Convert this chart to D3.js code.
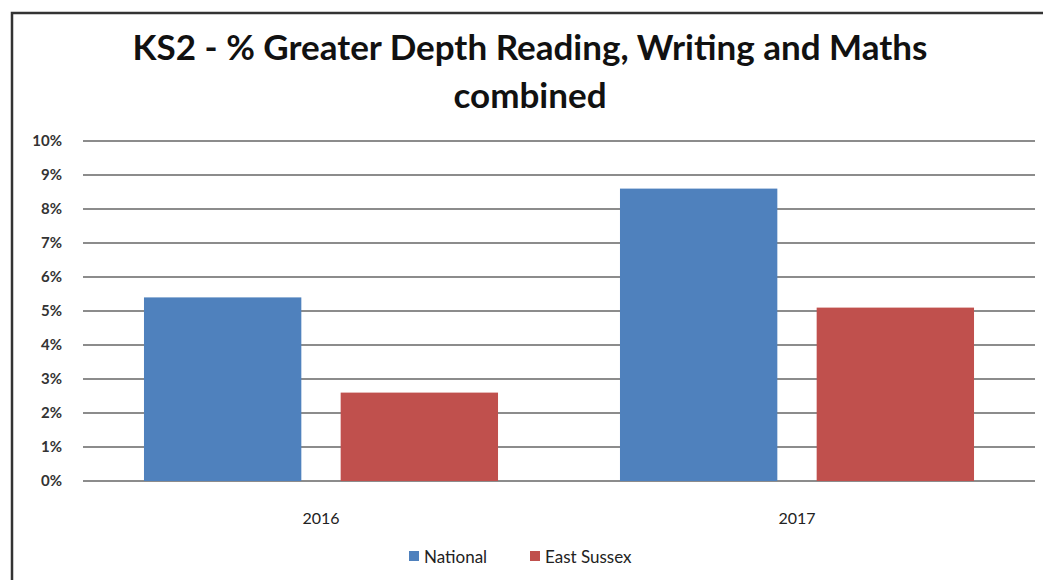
<!DOCTYPE html>
<html>
<head>
<meta charset="utf-8">
<script src="https://cdn.jsdelivr.net/npm/d3@7"></script>
<style>
  body { margin: 0; background: #fff; }
  svg text { font-family: Lato, "Open Sans", sans-serif; }
</style>
</head>
<body>
<svg id="chart" width="1043" height="580"></svg>
<script>
const years = ['2016', '2017']
const seriesNames = ['National', 'East Sussex']
const national = [5.4, 8.6]
const eastSussex = [2.6, 5.1]
const yTicks = [0, 1, 2, 3, 4, 5, 6, 7, 8, 9, 10]
const colors = ['#4f81bd', '#c0504d']

let svg = d3.select('#chart')
let grid = { left: 83, right: 1035, top: 141, bottom: 481 }

// frame
svg.append('rect')
  .attr('x', 12).attr('y', 13)
  .attr('width', 1100).attr('height', 700)
  .attr('fill', '#fff').attr('stroke', '#333').attr('stroke-width', 2.5)

// title
let title = svg.append('text')
  .attr('text-anchor', 'middle')
  .attr('font-weight', 'bold')
  .attr('font-size', 35)
  .attr('fill', '#111')
title.append('tspan').attr('x', 530).attr('y', 60).text('KS2 - % Greater Depth Reading, Writing and Maths')
title.append('tspan').attr('x', 530).attr('y', 108).text('combined')

let scaleX = d3.scaleBand().domain(years).range([grid.left, grid.right])
let scaleSeries = d3.scaleBand().domain(seriesNames)
  .range([0, scaleX.bandwidth()]).paddingInner(0.2).paddingOuter(0.31)
let scaleY = d3.scaleLinear().domain([0, 10]).range([grid.bottom, grid.top])

// gridlines
svg.append('g').selectAll('line')
  .data(yTicks)
  .join('line')
  .attr('x1', grid.left).attr('x2', grid.right)
  .attr('y1', d => scaleY(d)).attr('y2', d => scaleY(d))
  .attr('stroke', '#8c8c8c').attr('stroke-width', 2)

// y labels
svg.append('g').selectAll('text')
  .data(yTicks)
  .join('text')
  .attr('x', 62).attr('y', d => scaleY(d) + 5)
  .attr('text-anchor', 'end')
  .attr('font-size', 15)
  .attr('font-weight', 'bold')
  .attr('fill', '#333')
  .text(d => d + '%')

// bars
let data = [national, eastSussex]
data.forEach((vals, si) => {
  svg.append('g').selectAll('rect')
    .data(vals)
    .join('rect')
    .attr('x', (d, i) => scaleX(years[i]) + scaleSeries(seriesNames[si]))
    .attr('width', scaleSeries.bandwidth())
    .attr('y', d => scaleY(d))
    .attr('height', d => grid.bottom - scaleY(d))
    .attr('fill', colors[si])
})

// x labels
svg.append('g').selectAll('text')
  .data(years)
  .join('text')
  .attr('x', d => scaleX(d) + scaleX.bandwidth() / 2)
  .attr('y', 524)
  .attr('text-anchor', 'middle')
  .attr('font-size', 16)
  .attr('fill', '#222')
  .text(d => d)

// legend
let legendX = [409, 530]
let legend = svg.append('g').selectAll('g')
  .data(seriesNames)
  .join('g')
  .attr('transform', (d, i) => `translate(${legendX[i]}, 551)`)
legend.append('rect')
  .attr('width', 10).attr('height', 10)
  .attr('fill', (d, i) => colors[i])
legend.append('text')
  .attr('x', 15).attr('y', 12)
  .attr('font-size', 17)
  .attr('fill', '#222')
  .text(d => d)
</script>
</body>
</html>
